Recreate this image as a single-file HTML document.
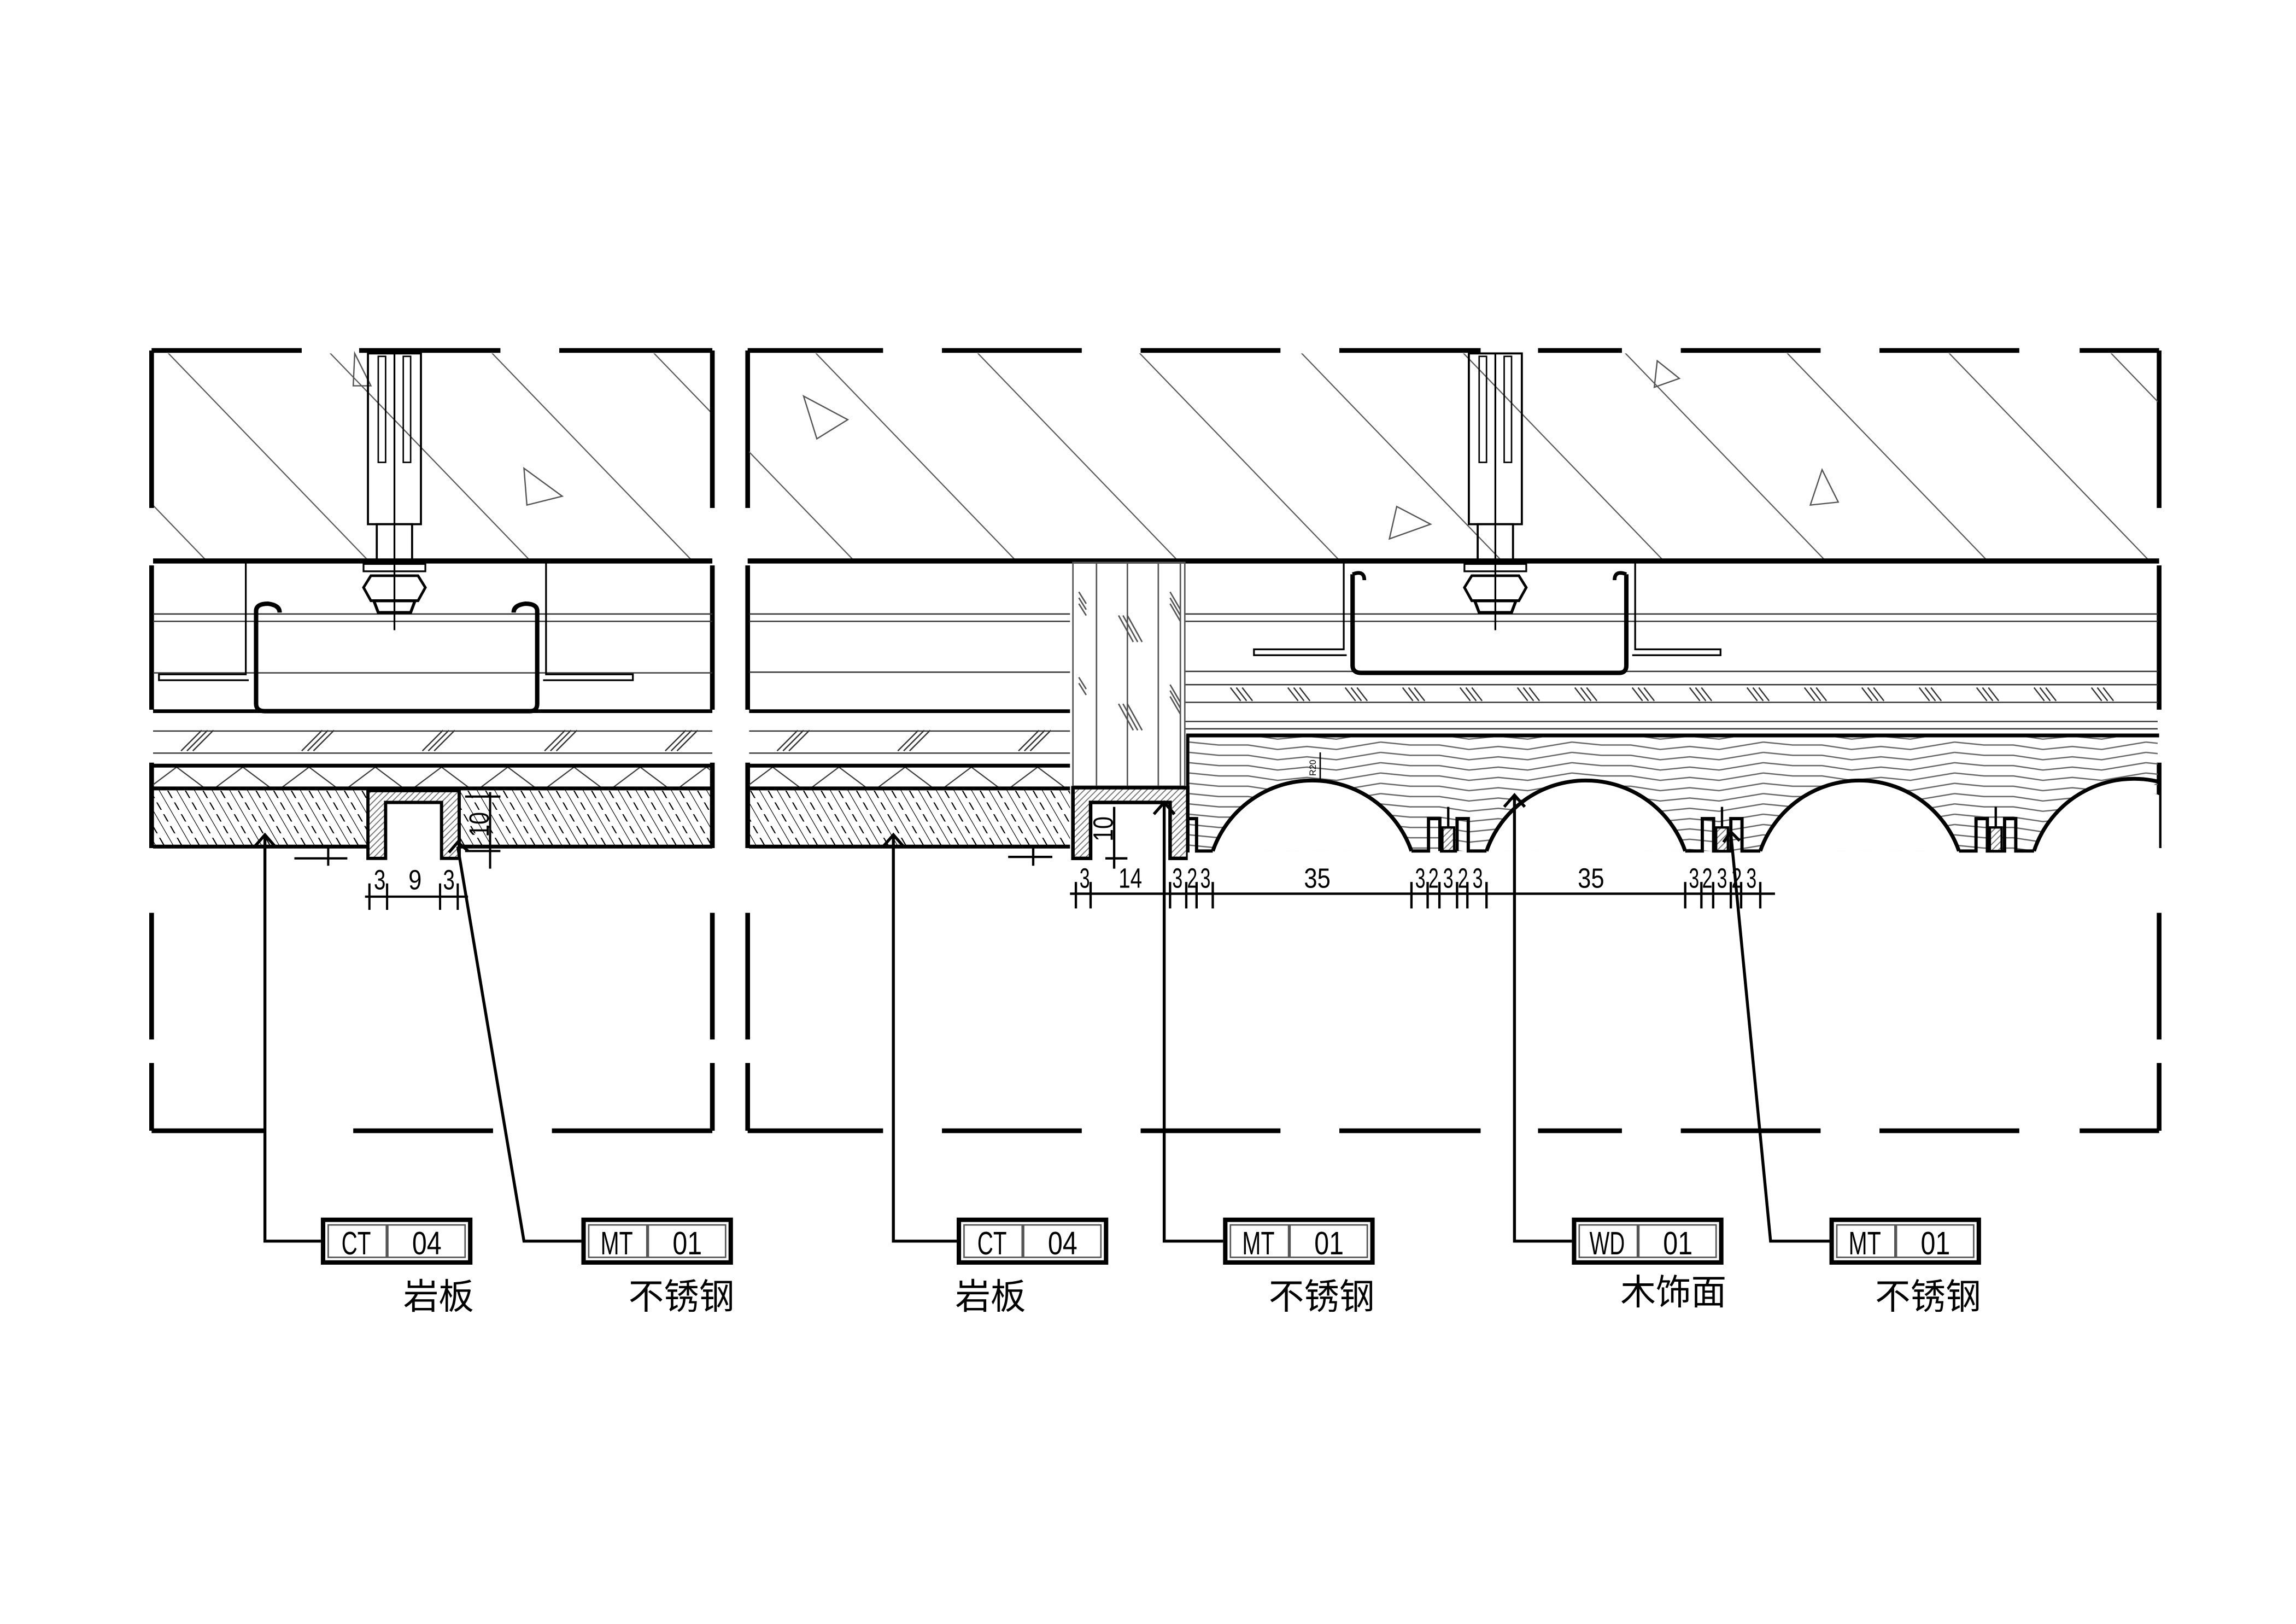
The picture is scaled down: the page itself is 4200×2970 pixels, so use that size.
<!DOCTYPE html>
<html><head><meta charset="utf-8">
<style>html,body{margin:0;padding:0;background:#fff}svg{display:block}</style></head>
<body>
<svg xmlns="http://www.w3.org/2000/svg" width="4200" height="2970" viewBox="0 0 1560 1103">
<defs>
<pattern id="conc" patternUnits="userSpaceOnUse" width="110" height="143" patternTransform="translate(0,238)">
<line x1="-10" y1="-13" x2="153" y2="156" stroke="#555" stroke-width="0.8"/>
<line x1="-120" y1="-13" x2="43" y2="156" stroke="#555" stroke-width="0.8"/>
</pattern>
<pattern id="stone" patternUnits="userSpaceOnUse" width="12" height="40" patternTransform="translate(0,537) skewX(30)">
<line x1="0" y1="0" x2="0" y2="40" stroke="#000" stroke-width="1"/>
<line x1="6" y1="0" x2="6" y2="40" stroke="#000" stroke-width="0.9" stroke-dasharray="5 3"/>
</pattern>
<pattern id="ins" patternUnits="userSpaceOnUse" width="45" height="16" patternTransform="translate(8,521)">
<line x1="22" y1="0" x2="-2" y2="18" stroke="#333" stroke-width="0.8"/>
<line x1="22" y1="0" x2="46" y2="18" stroke="#333" stroke-width="0.8"/>
<line x1="-23" y1="0" x2="1" y2="18" stroke="#333" stroke-width="0.8"/>
<line x1="67" y1="0" x2="43" y2="18" stroke="#333" stroke-width="0.8"/>
</pattern>
<pattern id="wood" patternUnits="userSpaceOnUse" width="130" height="7" patternTransform="translate(808,503)">
<polyline points="0,1 20,3 40,3 60,6 80,4 100,6 130,1" fill="none" stroke="#666" stroke-width="0.9"/>
<polyline points="0,8 20,10 40,10 60,13 80,11 100,13 130,8" fill="none" stroke="#666" stroke-width="0.9"/>
<polyline points="0,-6 20,-4 40,-4 60,-1 80,-3 100,-1 130,-6" fill="none" stroke="#666" stroke-width="0.9"/>
</pattern>
<pattern id="steel" patternUnits="userSpaceOnUse" width="3" height="3" patternTransform="rotate(45)">
<rect width="3" height="3" fill="#fff"/><line x1="0" y1="0" x2="0" y2="3" stroke="#777" stroke-width="1.4"/>
</pattern>
</defs>

<!-- ===== LEFT PANEL ===== -->
<rect x="104" y="240" width="379" height="141" fill="url(#conc)"/>
<polygon points="356,318 382,337 358,343" fill="none" stroke="#555" stroke-width="0.9"/>
<polygon points="241,240 252,262 240,262" fill="none" stroke="#555" stroke-width="0.9"/>
<g stroke="#000" stroke-width="3.2" fill="none">
<path d="M103 238 H205 M244 238 H340 M380 238 H484"/>
<path d="M508 238 H600 M640 238 H735 M775 238 H870 M910 238 H1006 M1045 238 H1102 M1142 238 H1237 M1277 238 H1372 M1413 238 H1467"/>
<path d="M103 768 H180 M240 768 H335 M375 768 H484"/>
<path d="M508 768 H600 M640 768 H735 M775 768 H870 M910 768 H1006 M1045 768 H1102 M1142 768 H1237 M1277 768 H1372 M1413 768 H1467"/>
<path d="M103 238 V345 M103 384 V482 M103 518 V576 M103 620 V706 M103 722 V768"/>
<path d="M484 238 V345 M484 384 V482 M484 518 V576 M484 620 V706 M484 722 V768"/>
<path d="M508 238 V345 M508 384 V482 M508 518 V576 M508 620 V706 M508 722 V768"/>
<path d="M1467 238 V345 M1467 384 V482 M1467 518 V576 M1467 620 V706 M1467 722 V768"/>
</g>
<line x1="104" y1="381" x2="484" y2="381" stroke="#000" stroke-width="3.5"/>
<g stroke="#333" stroke-width="0.9">
<line x1="104" y1="417" x2="484" y2="417"/><line x1="104" y1="422" x2="484" y2="422"/>
<line x1="104" y1="457" x2="484" y2="457"/>
<line x1="104" y1="496.5" x2="484" y2="496.5"/><line x1="104" y1="511.5" x2="484" y2="511.5"/>
</g>
<line x1="104" y1="483" x2="484" y2="483" stroke="#000" stroke-width="2.5"/>
<g stroke="#333" stroke-width="0.9" fill="none">
<path d="M123 510 l14 -14 M127 510 l14 -14 M131 510 l14 -14"/>
<path d="M205 510 l14 -14 M209 510 l14 -14 M213 510 l14 -14"/>
<path d="M287 510 l14 -14 M291 510 l14 -14 M295 510 l14 -14"/>
<path d="M370 510 l14 -14 M374 510 l14 -14 M378 510 l14 -14"/>
<path d="M452 510 l14 -14 M456 510 l14 -14 M460 510 l14 -14"/>
</g>
<rect x="104" y="520" width="379" height="15" fill="url(#ins)"/>
<rect x="104" y="536" width="146" height="39" fill="url(#stone)"/>
<rect x="312" y="536" width="171" height="39" fill="url(#stone)"/>
<g stroke="#000" stroke-width="2.6">
<line x1="104" y1="520" x2="484" y2="520"/>
<line x1="104" y1="535.5" x2="484" y2="535.5"/>
<line x1="104" y1="575" x2="250" y2="575"/><line x1="312" y1="575" x2="484" y2="575"/>
</g>
<path d="M250 537 H312 V583 H300 V545 H262 V583 H250 Z" fill="url(#steel)" stroke="#000" stroke-width="2.2"/>
<g fill="none" stroke="#000">
<path d="M167 382 V458 H108 V462 H169" stroke-width="1.2"/>
<path d="M371 382 V458 H430 V462 H369" stroke-width="1.2"/>
<path d="M174 415 V478 Q174 483 180 483 H360 Q365 483 365 478 V415" stroke-width="3"/>
<path d="M174 415 Q174 410 182 410 Q190 411 190 416" stroke-width="3"/>
<path d="M365 415 Q365 410 357 410 Q349 411 349 416" stroke-width="3"/>
<rect x="250" y="240" width="36" height="116" stroke-width="1.4"/>
<rect x="256" y="356" width="24" height="25" stroke-width="1.4"/>
<line x1="268" y1="240" x2="268" y2="428" stroke-width="1.2"/>
<rect x="257" y="242" width="5" height="72" stroke-width="1"/>
<rect x="274" y="242" width="5" height="72" stroke-width="1"/>
<rect x="247" y="383" width="42" height="5" stroke-width="1.2"/>
<path d="M252 391 H284 L289 399 L284 408 H252 L247 399 Z" stroke-width="1.8"/>
<path d="M254 408 H282 L279 416 H257 Z" stroke-width="2"/>
</g>
<g stroke="#000" stroke-width="1.5" fill="none">
<line x1="248" y1="609" x2="318" y2="609"/>
<path d="M251 600 V618 M263 600 V618 M299 600 V618 M311 600 V618"/>
<line x1="316" y1="541" x2="340" y2="541"/><line x1="316" y1="578" x2="340" y2="578"/>
<line x1="333" y1="538" x2="333" y2="590"/>
<path d="M200 583 H236 M223 575 V588"/>
</g>
<g font-family="Liberation Sans, sans-serif" font-size="19" fill="#000" text-anchor="middle">
<text x="258" y="604" textLength="8" lengthAdjust="spacingAndGlyphs">3</text>
<text x="282" y="604" textLength="9" lengthAdjust="spacingAndGlyphs">9</text>
<text x="305" y="604" textLength="8" lengthAdjust="spacingAndGlyphs">3</text>
<text transform="translate(332,560) rotate(-90)" textLength="17" lengthAdjust="spacingAndGlyphs">10</text>
</g>

<!-- ===== RIGHT PANEL ===== -->
<rect x="509" y="240" width="957" height="141" fill="url(#conc)"/>
<polygon points="546,269 576,285 555,298" fill="none" stroke="#555" stroke-width="0.9"/>
<polygon points="949,344 972,356 944,366" fill="none" stroke="#555" stroke-width="0.9"/>
<polygon points="1126,245 1141,257 1124,263" fill="none" stroke="#555" stroke-width="0.9"/>
<polygon points="1238,319 1249,341 1230,343" fill="none" stroke="#555" stroke-width="0.9"/>
<line x1="508" y1="381" x2="1467" y2="381" stroke="#000" stroke-width="3.5"/>
<g stroke="#333" stroke-width="0.9">
<line x1="509" y1="417" x2="727" y2="417"/><line x1="509" y1="422" x2="727" y2="422"/>
<line x1="509" y1="456.5" x2="727" y2="456.5"/>
<line x1="509" y1="496.5" x2="727" y2="496.5"/><line x1="509" y1="511.5" x2="727" y2="511.5"/>
<line x1="805" y1="417" x2="1466" y2="417"/><line x1="805" y1="422" x2="1466" y2="422"/>
<line x1="805" y1="456" x2="1466" y2="456"/><line x1="805" y1="465" x2="1466" y2="465"/>
<line x1="805" y1="477" x2="1466" y2="477"/><line x1="805" y1="490" x2="1466" y2="490"/>
<line x1="805" y1="495" x2="1466" y2="495"/>
</g>
<line x1="509" y1="483" x2="727" y2="483" stroke="#000" stroke-width="2.5"/>
<g stroke="#333" stroke-width="0.9" fill="none">
<path d="M528 510 l14 -14 M532 510 l14 -14 M536 510 l14 -14"/>
<path d="M610 510 l14 -14 M614 510 l14 -14 M618 510 l14 -14"/>
<path d="M692 510 l14 -14 M696 510 l14 -14 M700 510 l14 -14"/>
<path d="M836 467 l7 9 M840 467 l7 9 M844 467 l7 9 M875 467 l7 9 M879 467 l7 9 M883 467 l7 9 M914 467 l7 9 M918 467 l7 9 M922 467 l7 9 M953 467 l7 9 M957 467 l7 9 M961 467 l7 9 M992 467 l7 9 M996 467 l7 9 M1000 467 l7 9 M1031 467 l7 9 M1035 467 l7 9 M1039 467 l7 9 M1070 467 l7 9 M1074 467 l7 9 M1078 467 l7 9 M1109 467 l7 9 M1113 467 l7 9 M1117 467 l7 9 M1148 467 l7 9 M1152 467 l7 9 M1156 467 l7 9 M1187 467 l7 9 M1191 467 l7 9 M1195 467 l7 9 M1226 467 l7 9 M1230 467 l7 9 M1234 467 l7 9 M1265 467 l7 9 M1269 467 l7 9 M1273 467 l7 9 M1304 467 l7 9 M1308 467 l7 9 M1312 467 l7 9 M1343 467 l7 9 M1347 467 l7 9 M1351 467 l7 9 M1382 467 l7 9 M1386 467 l7 9 M1390 467 l7 9 M1421 467 l7 9 M1425 467 l7 9 M1429 467 l7 9"/>
</g>
<rect x="509" y="520" width="218" height="15" fill="url(#ins)"/>
<rect x="509" y="536" width="218" height="39" fill="url(#stone)"/>
<g stroke="#000" stroke-width="2.6">
<line x1="509" y1="520" x2="727" y2="520"/>
<line x1="509" y1="535.5" x2="727" y2="535.5"/>
<line x1="509" y1="575" x2="727" y2="575"/>
</g>
<g fill="none" stroke="#555" stroke-width="1">
<rect x="729" y="382" width="76" height="152"/>
<path d="M745 382 V534 M766 382 V534 M787 382 V534 M802 382 V534"/>
<path d="M733 402 l5 8 M733 406 l5 8 M733 410 l5 8 M760 418 l10 18 M763 418 l10 18 M766 418 l10 18 M795 402 l7 12 M795 406 l7 12 M795 410 l7 12 M733 460 l5 8 M733 464 l5 8 M760 478 l10 18 M763 478 l10 18 M766 478 l10 18 M795 465 l7 12 M795 469 l7 12 M795 473 l7 12"/>
</g>
<path d="M729 535 H807 V583 H795 V545 H741 V583 H729 Z" fill="url(#steel)" stroke="#000" stroke-width="2.4"/>
<rect x="807" y="500" width="659" height="78" fill="url(#wood)"/>
<line x1="806" y1="499.5" x2="1467" y2="499.5" stroke="#000" stroke-width="2.6"/>
<line x1="807" y1="499" x2="807" y2="583" stroke="#000" stroke-width="2.2"/>
<g fill="#fff" stroke="#000" stroke-width="2.6">
<path d="M824 578 A71.5 71.5 0 0 1 959 578 Z" stroke="none"/>
<path d="M824 578 A71.5 71.5 0 0 1 959 578"/>
<path d="M1010 578 A71.5 71.5 0 0 1 1145 578 Z" stroke="none"/>
<path d="M1010 578 A71.5 71.5 0 0 1 1145 578"/>
<path d="M1196 578 A71.5 71.5 0 0 1 1331 578 Z" stroke="none"/>
<path d="M1196 578 A71.5 71.5 0 0 1 1331 578"/>
<path d="M1382 578 A71.5 71.5 0 0 1 1467 540 V580 H1382 Z" stroke="none"/>
<path d="M1382 578 A71.5 71.5 0 0 1 1467 531"/>
</g>
<rect x="807" y="579" width="660" height="10" fill="#fff"/>
<g fill="none" stroke="#000" stroke-width="2.2">
<path d="M807 556 H813 V578 H824"/>
<path d="M959 578 H970.6 V556 H978.3 V578 M978.3 578 H990 M990 578 V556 H997.6 V578 H1010"/>
<path d="M1145 578 H1156.6 V556 H1164.3 V578 H1176 V556 H1183.6 V578 H1196"/>
<path d="M1331 578 H1342.6 V556 H1350.3 V578 H1362 V556 H1369.6 V578 H1382"/>
</g>
<g fill="url(#steel)" stroke="#000" stroke-width="1.6">
<rect x="980" y="562" width="8" height="16"/><line x1="984" y1="548" x2="984" y2="562"/>
<rect x="1166" y="562" width="8" height="16"/><line x1="1170" y1="548" x2="1170" y2="562"/>
<rect x="1352" y="562" width="8" height="16"/><line x1="1356" y1="548" x2="1356" y2="562"/>
</g>
<line x1="897" y1="511" x2="897" y2="531" stroke="#000" stroke-width="1"/>
<text transform="translate(894,527) rotate(-90)" font-family="Liberation Sans, sans-serif" font-size="6">R20</text>
<g fill="none" stroke="#000">
<path d="M913 382 V441 H852 V445 H915" stroke-width="1.2"/>
<path d="M1111 382 V441 H1169 V445 H1109" stroke-width="1.2"/>
<path d="M919 390 V452 Q919 457 925 457 H1100 Q1105 457 1105 452 V390" stroke-width="3"/>
<path d="M919 390 Q927 387 927 394" stroke-width="2.5"/>
<path d="M1105 390 Q1097 387 1097 394" stroke-width="2.5"/>
<rect x="998" y="240" width="36" height="116" stroke-width="1.4"/>
<rect x="1004" y="356" width="24" height="25" stroke-width="1.4"/>
<line x1="1016" y1="240" x2="1016" y2="428" stroke-width="1.2"/>
<rect x="1005" y="242" width="5" height="72" stroke-width="1"/>
<rect x="1022" y="242" width="5" height="72" stroke-width="1"/>
<rect x="995" y="383" width="42" height="5" stroke-width="1.2"/>
<path d="M1000 391 H1032 L1037 399 L1032 408 H1000 L995 399 Z" stroke-width="1.8"/>
<path d="M1002 408 H1030 L1027 416 H1005 Z" stroke-width="2"/>
</g>
<g stroke="#000" stroke-width="1.6" fill="none">
<line x1="727" y1="607" x2="1206" y2="607"/>
<path d="M731 599 V617 M741 599 V617 M795 599 V617 M806 599 V617 M813 599 V617 M824 599 V617 M959 599 V617 M970 599 V617 M978 599 V617 M990 599 V617 M997 599 V617 M1010 599 V617 M1145 599 V617 M1156 599 V617 M1164 599 V617 M1176 599 V617 M1183 599 V617 M1196 599 V617"/>
<line x1="757" y1="548" x2="757" y2="590"/><path d="M751 583 H766"/>
<path d="M685 582 H715 M702 574 V588"/>
</g>
<g font-family="Liberation Sans, sans-serif" font-size="19" fill="#000" text-anchor="middle">
<text x="737" y="603" textLength="7" lengthAdjust="spacingAndGlyphs">3</text>
<text x="768" y="603" textLength="16" lengthAdjust="spacingAndGlyphs">14</text>
<text x="800" y="603" textLength="7" lengthAdjust="spacingAndGlyphs">3</text>
<text x="810" y="603" textLength="7" lengthAdjust="spacingAndGlyphs">2</text>
<text x="819" y="603" textLength="7" lengthAdjust="spacingAndGlyphs">3</text>
<text x="895" y="603" textLength="18" lengthAdjust="spacingAndGlyphs">35</text>
<text x="965" y="603" textLength="7" lengthAdjust="spacingAndGlyphs">3</text>
<text x="974" y="603" textLength="7" lengthAdjust="spacingAndGlyphs">2</text>
<text x="984" y="603" textLength="7" lengthAdjust="spacingAndGlyphs">3</text>
<text x="994" y="603" textLength="7" lengthAdjust="spacingAndGlyphs">2</text>
<text x="1004" y="603" textLength="7" lengthAdjust="spacingAndGlyphs">3</text>
<text x="1081" y="603" textLength="18" lengthAdjust="spacingAndGlyphs">35</text>
<text x="1151" y="603" textLength="7" lengthAdjust="spacingAndGlyphs">3</text>
<text x="1160" y="603" textLength="7" lengthAdjust="spacingAndGlyphs">2</text>
<text x="1170" y="603" textLength="7" lengthAdjust="spacingAndGlyphs">3</text>
<text x="1180" y="603" textLength="7" lengthAdjust="spacingAndGlyphs">2</text>
<text x="1190" y="603" textLength="7" lengthAdjust="spacingAndGlyphs">3</text>
<text transform="translate(756,563) rotate(-90)" textLength="17" lengthAdjust="spacingAndGlyphs">10</text>
</g>

<g fill="none" stroke="#000" stroke-width="2">
<path d="M218 843 H180 V568 M173 575 L180 567 L187 575"/>
<path d="M395 843 H356 L311 575 M305 579 L311 572 L318 578"/>
<path d="M650 843 H607 V568 M600 575 L607 567 L614 575"/>
<path d="M831 843 H791 V545 M784 553 L791 545 L798 553"/>
<path d="M1068 843 H1029 V540 M1022 548 L1029 540 L1036 548"/>
<path d="M1243 843 H1203 L1176 566 M1171 572 L1176 565 L1182 571"/>
</g>
<g font-family="Liberation Sans, sans-serif" font-size="22" fill="#000" text-anchor="middle">
<g transform="translate(218,827)"><rect x="1.5" y="1.5" width="100" height="29" fill="#fff" stroke="#000" stroke-width="3"/><rect x="5" y="5" width="93" height="22" fill="none" stroke="#555" stroke-width="1"/><line x1="45" y1="5" x2="45" y2="27" stroke="#555" stroke-width="2"/><text x="24" y="25" textLength="20" lengthAdjust="spacingAndGlyphs">CT</text><text x="72" y="25" textLength="20" lengthAdjust="spacingAndGlyphs">04</text></g>
<g transform="translate(395,827)"><rect x="1.5" y="1.5" width="100" height="29" fill="#fff" stroke="#000" stroke-width="3"/><rect x="5" y="5" width="93" height="22" fill="none" stroke="#555" stroke-width="1"/><line x1="45" y1="5" x2="45" y2="27" stroke="#555" stroke-width="2"/><text x="24" y="25" textLength="22" lengthAdjust="spacingAndGlyphs">MT</text><text x="72" y="25" textLength="20" lengthAdjust="spacingAndGlyphs">01</text></g>
<g transform="translate(650,827)"><rect x="1.5" y="1.5" width="100" height="29" fill="#fff" stroke="#000" stroke-width="3"/><rect x="5" y="5" width="93" height="22" fill="none" stroke="#555" stroke-width="1"/><line x1="45" y1="5" x2="45" y2="27" stroke="#555" stroke-width="2"/><text x="24" y="25" textLength="20" lengthAdjust="spacingAndGlyphs">CT</text><text x="72" y="25" textLength="20" lengthAdjust="spacingAndGlyphs">04</text></g>
<g transform="translate(831,827)"><rect x="1.5" y="1.5" width="100" height="29" fill="#fff" stroke="#000" stroke-width="3"/><rect x="5" y="5" width="93" height="22" fill="none" stroke="#555" stroke-width="1"/><line x1="45" y1="5" x2="45" y2="27" stroke="#555" stroke-width="2"/><text x="24" y="25" textLength="22" lengthAdjust="spacingAndGlyphs">MT</text><text x="72" y="25" textLength="20" lengthAdjust="spacingAndGlyphs">01</text></g>
<g transform="translate(1068,827)"><rect x="1.5" y="1.5" width="100" height="29" fill="#fff" stroke="#000" stroke-width="3"/><rect x="5" y="5" width="93" height="22" fill="none" stroke="#555" stroke-width="1"/><line x1="45" y1="5" x2="45" y2="27" stroke="#555" stroke-width="2"/><text x="24" y="25" textLength="24" lengthAdjust="spacingAndGlyphs">WD</text><text x="72" y="25" textLength="20" lengthAdjust="spacingAndGlyphs">01</text></g>
<g transform="translate(1243,827)"><rect x="1.5" y="1.5" width="100" height="29" fill="#fff" stroke="#000" stroke-width="3"/><rect x="5" y="5" width="93" height="22" fill="none" stroke="#555" stroke-width="1"/><line x1="45" y1="5" x2="45" y2="27" stroke="#555" stroke-width="2"/><text x="24" y="25" textLength="22" lengthAdjust="spacingAndGlyphs">MT</text><text x="72" y="25" textLength="20" lengthAdjust="spacingAndGlyphs">01</text></g>
</g>
<g font-family="Liberation Sans, 'Noto Sans CJK SC', sans-serif" font-size="24" fill="#000" text-anchor="middle">
<text x="298" y="889">岩板</text>
<text x="463" y="889">不锈钢</text>
<text x="673" y="889">岩板</text>
<text x="898" y="889">不锈钢</text>
<text x="1137" y="886">木饰面</text>
<text x="1310" y="889">不锈钢</text>
</g>
</svg>
</body></html>
